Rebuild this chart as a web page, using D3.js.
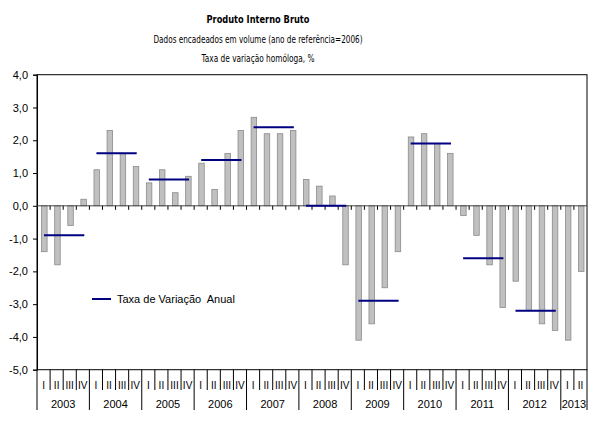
<!DOCTYPE html>
<html><head><meta charset="utf-8">
<script src="https://cdn.jsdelivr.net/npm/d3@7"></script>
<style>body{margin:0;background:#fff}svg{display:block}</style>
</head><body>
<svg id="c" width="600" height="426"></svg>
<script>
const years = ["2003","2004","2005","2006","2007","2008","2009","2010","2011","2012","2013"];
const quarterNames = ["I","II","III","IV"];
const quarterly = [
  -1.4,-1.8,-0.6,0.2,
  1.1,2.3,1.6,1.2,
  0.7,1.1,0.4,0.9,
  1.3,0.5,1.6,2.3,
  2.7,2.2,2.2,2.3,
  0.8,0.6,0.3,-1.8,
  -4.1,-3.6,-2.5,-1.4,
  2.1,2.2,1.9,1.6,
  -0.3,-0.9,-1.8,-3.1,
  -2.3,-3.2,-3.6,-3.8,
  -4.1,-2.0
];
const annual = [-0.9,1.6,0.8,1.4,2.4,0.0,-2.9,1.9,-1.6,-3.2];
const yTicks = [4,3,2,1,0,-1,-2,-3,-4,-5];

const svg = d3.select("#c");
const L = 37, R = 587, T = 74.7, B = 369.7;
const idx = d3.range(quarterly.length);
const x = d3.scaleBand().domain(idx).range([L, R]).padding(0);
const y = d3.scaleLinear().domain([-5, 4]).range([B, T]);
const font = "'Liberation Sans', Arial, sans-serif";

// titles
const tx = 258;
svg.append("text").attr("x", tx).attr("y", 23).attr("text-anchor","middle")
  .attr("font-family","'DejaVu Sans', Verdana, sans-serif").attr("font-weight","bold").attr("font-size",11)
  .attr("textLength",103).attr("lengthAdjust","spacingAndGlyphs").text("Produto Interno Bruto");
svg.append("text").attr("x", tx).attr("y", 43).attr("text-anchor","middle")
  .attr("font-family","'DejaVu Sans', Verdana, sans-serif").attr("font-size",10)
  .attr("textLength",209).attr("lengthAdjust","spacingAndGlyphs").text("Dados encadeados em volume (ano de referência=2006)");
svg.append("text").attr("x", tx).attr("y", 62).attr("text-anchor","middle")
  .attr("font-family","'DejaVu Sans', Verdana, sans-serif").attr("font-size",10)
  .attr("textLength",113).attr("lengthAdjust","spacingAndGlyphs").text("Taxa de variação homóloga, %");

// frame
svg.append("rect").attr("x", L).attr("y", T).attr("width", R-L).attr("height", B-T)
  .attr("fill","none").attr("stroke","#000").attr("stroke-width",1);

// y axis
const yAxis = d3.axisLeft(y).tickValues(yTicks).tickSize(4).tickPadding(5)
  .tickFormat(d => d3.format(".1f")(d).replace(".", ",").replace("−","-"));
const gy = svg.append("g").attr("transform", `translate(${L},0)`).call(yAxis);
gy.select(".domain").attr("stroke","#000");
gy.selectAll("text").attr("font-family", font).attr("font-size", 11).attr("fill","#000");

// bars
const bw = 5.5;
svg.append("g").selectAll("rect").data(quarterly).join("rect")
  .attr("x", (d,i) => x(i) + x.bandwidth()/2 - bw/2 + 0.8)
  .attr("y", d => y(Math.max(0,d)))
  .attr("width", bw)
  .attr("height", d => Math.abs(y(d) - y(0)))
  .attr("fill","#c0c0c0").attr("stroke","#8a8a8a").attr("stroke-width",0.8);

// zero line with quarter ticks
svg.append("line").attr("x1",L).attr("x2",R).attr("y1",y(0)).attr("y2",y(0)).attr("stroke","#444").attr("stroke-width",1);
svg.append("g").selectAll("line").data(d3.range(1, quarterly.length)).join("line")
  .attr("x1", i => x(i)).attr("x2", i => x(i))
  .attr("y1", y(0)).attr("y2", y(0)+4).attr("stroke","#000").attr("stroke-width",1);

// annual lines
svg.append("g").selectAll("line").data(annual).join("line")
  .attr("x1", (d,k) => x(k*4) + x.bandwidth()/2 + 0.5)
  .attr("x2", (d,k) => x(k*4+3) + x.bandwidth()/2 + 1.5)
  .attr("y1", d => y(d)).attr("y2", d => y(d))
  .attr("stroke","#000080").attr("stroke-width",2);

// x category axis (quarters & years)
const gx = svg.append("g");
gx.selectAll("text.q").data(quarterly).join("text").attr("class","q")
  .attr("x", (d,i) => x(i) + x.bandwidth()/2).attr("y", 389)
  .attr("text-anchor","middle").attr("font-family",font).attr("font-size",10)
  .text((d,i) => quarterNames[i % 4]);
gx.selectAll("line.qs").data(d3.range(0, quarterly.length+1)).join("line").attr("class","qs")
  .attr("x1", i => i === quarterly.length ? R : x(i)).attr("x2", i => i === quarterly.length ? R : x(i))
  .attr("y1", B).attr("y2", i => (i % 4 === 0 || i === quarterly.length) ? 410 : 390)
  .attr("stroke","#000").attr("stroke-width",1);
gx.selectAll("text.y").data(years).join("text").attr("class","y")
  .attr("x", (d,k) => {
    const a = k*4, b = Math.min(k*4+4, quarterly.length);
    return (x(a) + (b === quarterly.length ? R : x(b))) / 2;
  })
  .attr("y", 408).attr("text-anchor","middle").attr("font-family",font).attr("font-size",11)
  .text(d => d);

// legend
svg.append("line").attr("x1",92).attr("x2",111).attr("y1",299).attr("y2",299)
  .attr("stroke","#000080").attr("stroke-width",2);
svg.append("text").attr("x",117).attr("y",303).attr("font-family",font).attr("font-size",11)
  .attr("xml:space","preserve").text("Taxa de Variação  Anual");
</script>
</body></html>
